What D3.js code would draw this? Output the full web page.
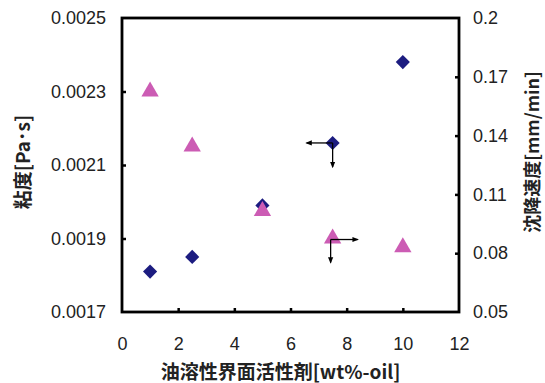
<!DOCTYPE html>
<html>
<head>
<meta charset="utf-8">
<script src="https://cdn.jsdelivr.net/npm/d3@7"></script>
<style>
  html, body { margin: 0; padding: 0; background: #fff; }
  svg { display: block; }
  text { font-family: "Liberation Sans", Arial, sans-serif; fill: #222; }
  .jp { font-family: "Noto Sans CJK JP", "Noto Sans", sans-serif; font-weight: 700; fill: #222; }
</style>
</head>
<body>
<svg id="chart" width="545" height="383"></svg>
<script>
// Surfactant concentration [wt%-oil]
const surfactant = [1, 2.5, 5, 7.5, 10];
// Viscosity [Pa·s] (left axis, diamonds)
const viscosity = [0.00181, 0.00185, 0.00199, 0.00216, 0.00238];
// Settling velocity [mm/min] (right axis, triangles)
const settling = [0.163, 0.135, 0.102, 0.088, 0.0835];

const xTicks = [0, 2, 4, 6, 8, 10, 12];
const yLeftTicks = [0.0017, 0.0019, 0.0021, 0.0023, 0.0025];
const yRightTicks = [0.05, 0.08, 0.11, 0.14, 0.17, 0.2];

const xLabel = "油溶性界面活性剤[wt%-oil]";
const yLeftLabel = "粘度[Pa･s]";
const yRightLabel = "沈降速度[mm/min]";

const svg = d3.select("#chart");
const L = 122, R = 459, T = 18, B = 312;

const x = d3.scaleLinear().domain([0, 12]).range([L, R]);
const yL = d3.scaleLinear().domain([0.0017, 0.0025]).range([B, T]);
const yR = d3.scaleLinear().domain([0.05, 0.2]).range([B, T]);

// Axes with short inward tick marks
const axisStyle = g => {
  g.select(".domain").remove();
  g.selectAll(".tick line").attr("stroke", "#000").attr("stroke-width", 2.5);
  g.selectAll(".tick text").attr("font-size", 18).attr("fill", "#222")
    .style("font-family", '"Liberation Sans", Arial, sans-serif');
};

svg.append("g").attr("transform", `translate(0,${B})`)
  .call(d3.axisBottom(x).tickValues(xTicks).tickFormat(d3.format("d"))
    .tickSizeInner(-4).tickSizeOuter(0).tickPadding(25))
  .call(axisStyle)
  .call(g => g.selectAll(".tick").filter(d => d === 0 || d === 12).select("line").remove());

svg.append("g").attr("transform", `translate(${L},0)`)
  .call(d3.axisLeft(yL).tickValues(yLeftTicks).tickFormat(d3.format(".4f"))
    .tickSizeInner(-4).tickSizeOuter(0).tickPadding(16))
  .call(axisStyle)
  .call(g => g.selectAll(".tick").filter(d => d === 0.0017 || d === 0.0025).select("line").remove());

svg.append("g").attr("transform", `translate(${R},0)`)
  .call(d3.axisRight(yR).tickValues(yRightTicks).tickFormat(d => d3.format("")(+d.toFixed(2)))
    .tickSizeInner(-4).tickSizeOuter(0).tickPadding(14))
  .call(axisStyle)
  .call(g => g.selectAll(".tick").filter(d => d === 0.05 || d === 0.2).select("line").remove());

// Plot frame
svg.append("rect")
  .attr("x", L).attr("y", T).attr("width", R - L).attr("height", B - T)
  .attr("fill", "none").attr("stroke", "#000").attr("stroke-width", 2.8);

// Axis titles
svg.append("text").attr("class", "jp")
  .attr("transform", `translate(${(L + R) / 2 - 10},379)`)
  .attr("text-anchor", "middle").attr("font-size", 19).text(xLabel);

svg.append("text").attr("class", "jp")
  .attr("transform", "translate(30,162) rotate(-90)")
  .attr("text-anchor", "middle").attr("font-size", 19).text(yLeftLabel);

svg.append("text").attr("class", "jp")
  .attr("transform", "translate(539,152) rotate(-90)")
  .attr("text-anchor", "middle").attr("font-size", 18).text(yRightLabel);

// Viscosity markers
const diamond = d3.symbol().type(d3.symbolSquare).size(100);
svg.append("g").selectAll("path").data(surfactant).join("path")
  .attr("d", diamond)
  .attr("transform", (d, i) => `translate(${x(d)},${yL(viscosity[i])}) rotate(45)`)
  .attr("fill", "#1c1c80");

// Settling velocity markers
const tri = d3.symbol().type(d3.symbolTriangle).size(130);
svg.append("g").selectAll("path").data(surfactant).join("path")
  .attr("d", tri)
  .attr("transform", (d, i) => `translate(${x(d)},${yR(settling[i]) + 1})`)
  .attr("fill", "#cc5cb4");

// Arrows pointing each series to its axis
const defs = svg.append("defs");
defs.append("marker").attr("id", "ah")
  .attr("viewBox", "0 0 10 10").attr("refX", 8).attr("refY", 5)
  .attr("markerWidth", 5).attr("markerHeight", 5).attr("orient", "auto")
  .append("path").attr("d", "M0,1 L10,5 L0,9 Z").attr("fill", "#000");

const arrow = (x1, y1, x2, y2) => svg.append("line")
  .attr("x1", x1).attr("y1", y1).attr("x2", x2).attr("y2", y2)
  .attr("stroke", "#000").attr("stroke-width", 1.3)
  .attr("marker-end", "url(#ah)");

const dx = x(surfactant[3]), dy = yL(viscosity[3]);
arrow(dx, dy, dx - 26, dy);
arrow(dx, dy, dx, dy + 24);

const tx = x(surfactant[3]) - 2, ty = yR(settling[3]) + 2;
arrow(tx, ty, tx + 27, ty);
arrow(tx, ty, tx, ty + 23);
</script>
</body>
</html>
